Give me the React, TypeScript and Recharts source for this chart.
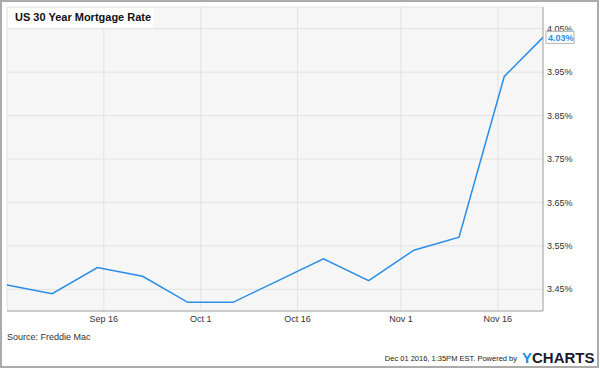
import React from "react";
import {
  LineChart,
  Line,
  XAxis,
  YAxis,
  CartesianGrid,
  LabelList
} from "recharts";

// Freddie Mac weekly survey dates and 30-year fixed rates (%)
const weekDates = [
  "2016-09-01",
  "2016-09-08",
  "2016-09-15",
  "2016-09-22",
  "2016-09-29",
  "2016-10-06",
  "2016-10-13",
  "2016-10-20",
  "2016-10-27",
  "2016-11-03",
  "2016-11-10",
  "2016-11-17",
  "2016-11-23"
];
const mortgageRates = [
  3.46, 3.44, 3.5, 3.48, 3.42, 3.42, 3.47, 3.52, 3.47, 3.54, 3.57, 3.94, 4.03
];

const xTickDates = ["2016-09-16", "2016-10-01", "2016-10-16", "2016-11-01", "2016-11-16"];
const xTickLabels = ["Sep 16", "Oct 1", "Oct 16", "Nov 1", "Nov 16"];
const yTicks = [3.45, 3.55, 3.65, 3.75, 3.85, 3.95, 4.05];
const yDomain = [3.4, 4.1];

const FONT = "Arial, 'Liberation Sans', Helvetica, sans-serif";
const BLUE = "#2a8de6";

const toTime = (d: string) => Date.parse(d + "T00:00:00Z");

const data = weekDates.map((d, i) => ({ t: toTime(d), rate: mortgageRates[i] }));
const xTicks = xTickDates.map(toTime);
const lastRate = mortgageRates[mortgageRates.length - 1];

function LastValueLabel(props: any) {
  const { x, y, value } = props;
  if (value !== lastRate) return null;
  return (
    <g>
      <rect x={x + 3} y={y - 6} width={28} height={12} fill="#fff" stroke="#b5b5b5" />
      <text
        x={x + 5}
        y={y}
        dy="0.36em"
        fill={BLUE}
        fontSize={9}
        fontWeight="bold"
        fontFamily={FONT}
      >
        {Number(value).toFixed(2)}%
      </text>
    </g>
  );
}

export default function App() {
  return (
    <div
      style={{
        position: "absolute",
        left: 0,
        top: 0,
        width: 599,
        height: 368,
        background: "#fff",
        boxShadow: "inset 0 0 0 2px #ababab",
        fontFamily: FONT
      }}
    >
      <LineChart
        width={599}
        height={368}
        data={data}
        margin={{ top: 7, right: 6, bottom: 35, left: 7 }}
      >
        <CartesianGrid stroke="#e2e2e2" fill="#f6f6f6" />
        <XAxis
          dataKey="t"
          type="number"
          domain={["dataMin", "dataMax"]}
          ticks={xTicks}
          tickFormatter={(v) => xTickLabels[xTicks.indexOf(v)] ?? ""}
          tickLine={false}
          tickSize={0}
          tickMargin={5}
          height={22}
          axisLine={{ stroke: "#a8a8a8" }}
          tick={{ fill: "#333", fontSize: 9, fontFamily: FONT }}
        />
        <XAxis
          xAxisId="top"
          dataKey="t"
          type="number"
          orientation="top"
          domain={["dataMin", "dataMax"]}
          height={0}
          tick={false}
          tickLine={false}
          axisLine={{ stroke: "#d6d6d6" }}
        />
        <YAxis
          orientation="right"
          type="number"
          domain={yDomain}
          ticks={yTicks}
          tickFormatter={(v) => v.toFixed(2) + "%"}
          tickLine={false}
          tickSize={0}
          tickMargin={4}
          width={50}
          axisLine={{ stroke: "#a8a8a8" }}
          tick={{ fill: "#333", fontSize: 9, fontFamily: FONT }}
        />
        <YAxis
          yAxisId="frame"
          orientation="left"
          type="number"
          domain={yDomain}
          width={0}
          tick={false}
          tickLine={false}
          axisLine={{ stroke: "#a8a8a8" }}
        />
        <Line
          dataKey="rate"
          type="linear"
          stroke={BLUE}
          strokeWidth={1.5}
          dot={false}
          isAnimationActive={false}
        >
          <LabelList dataKey="rate" content={LastValueLabel} />
        </Line>
      </LineChart>

      <div
        style={{
          position: "absolute",
          left: 8,
          top: 8,
          width: 145,
          height: 20,
          background: "#fff"
        }}
      >
        <div
          style={{
            position: "absolute",
            left: 7,
            top: 4,
            fontSize: 11,
            lineHeight: "11px",
            fontWeight: "bold",
            color: "#111",
            whiteSpace: "nowrap"
          }}
        >
          US 30 Year Mortgage Rate
        </div>
      </div>

      <div
        style={{
          position: "absolute",
          left: 7,
          top: 333,
          fontSize: 9,
          lineHeight: "9px",
          color: "#333",
          whiteSpace: "nowrap"
        }}
      >
        Source: Freddie Mac
      </div>

      <div
        style={{
          position: "absolute",
          right: 82,
          top: 355,
          fontSize: 7.5,
          lineHeight: "8px",
          color: "#222",
          textAlign: "right",
          whiteSpace: "nowrap"
        }}
      >
        Dec 01 2016, 1:35PM EST. Powered by
      </div>

      <div
        style={{
          position: "absolute",
          left: 522,
          top: 350,
          fontSize: 15,
          lineHeight: "15px",
          fontWeight: 900,
          color: "#1b1b2b",
          whiteSpace: "nowrap"
        }}
      >
        <span style={{ color: "#1b8fe3" }}>Y</span>CHARTS
      </div>
    </div>
  );
}
